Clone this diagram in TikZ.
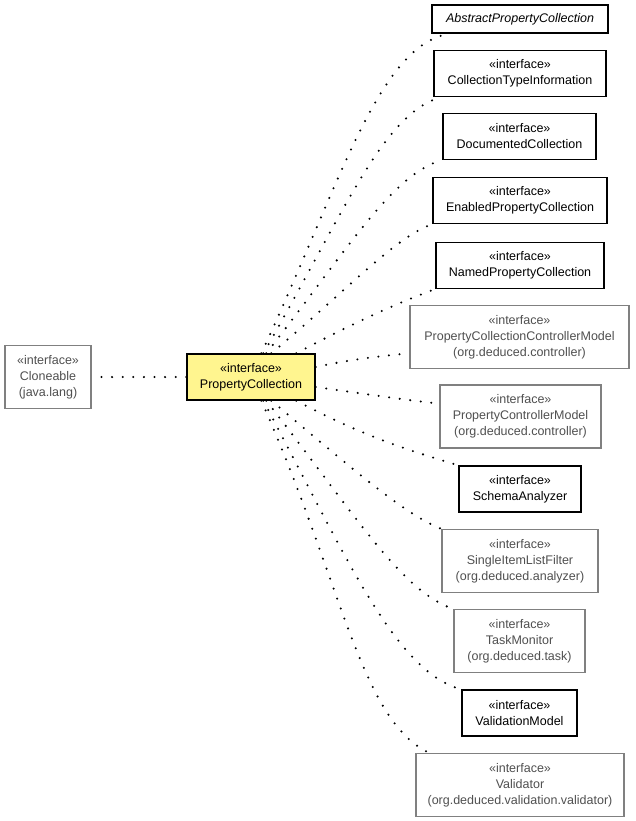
\documentclass[tikz,border=0pt]{standalone}
\usepackage{fontspec}
\setmainfont{Liberation Sans}
\usepackage{tikz,xcolor}
\usetikzlibrary{calc}

\definecolor{noteyellow}{RGB}{255,245,143}
\definecolor{boxgray}{RGB}{128,128,128}
\definecolor{textgray}{RGB}{80,80,80}

\tikzset{
  iface/.style={draw=black, line width=1.2pt, fill=white, align=center,
    inner sep=0pt, minimum height=46pt, font=\fontsize{12.5}{16}\selectfont},
  ifacelib/.style={iface, draw=boxgray, text=textgray, minimum height=63pt},
  ifacemain/.style={iface, fill=noteyellow, line width=1.4pt},
  realize/.style={black, line width=2.3pt, line cap=round, dash pattern=on 0pt off 10.6pt,
    out looseness=1.3, in looseness=0.5}
}

\begin{document}
\begin{tikzpicture}[x=1pt,y=1pt]
\useasboundingbox (0,0) rectangle (635,-821);

% the class in the middle and its parent
\node[ifacemain, minimum width=128pt] (pc) at (251,-377) {«interface»\\PropertyCollection};
\node[ifacelib, minimum width=86pt] (clone) at (48,-377) {«interface»\\Cloneable\\(java.lang)};

% the right hand column
\node[iface, minimum width=176pt, minimum height=28pt] (abs) at (520,-19) {\textit{AbstractPropertyCollection}};
\node[iface, minimum width=172pt] (cti) at (520,-73.5) {«interface»\\CollectionTypeInformation};
\node[iface, minimum width=153pt] (doc) at (519.5,-136.5) {«interface»\\DocumentedCollection};
\node[iface, minimum width=174pt] (epc) at (520,-200.5) {«interface»\\EnabledPropertyCollection};
\node[iface, minimum width=168pt] (npc) at (520,-265.5) {«interface»\\NamedPropertyCollection};
\node[ifacelib, minimum width=219pt] (pccm) at (519.5,-337) {«interface»\\PropertyCollectionControllerModel\\(org.deduced.controller)};
\node[ifacelib, minimum width=161pt] (pcm) at (520.5,-416.5) {«interface»\\PropertyControllerModel\\(org.deduced.controller)};
\node[iface, minimum width=122pt] (sa) at (520,-489) {«interface»\\SchemaAnalyzer};
\node[ifacelib, minimum width=156pt] (silf) at (520,-561) {«interface»\\SingleItemListFilter\\(org.deduced.analyzer)};
\node[ifacelib, minimum width=131pt] (tm) at (519.5,-641) {«interface»\\TaskMonitor\\(org.deduced.task)};
\node[iface, minimum width=115pt] (vm) at (519.5,-713) {«interface»\\ValidationModel};
\node[ifacelib, minimum width=208pt] (val) at (520,-785) {«interface»\\Validator\\(org.deduced.validation.validator)};

% dotted links
\draw[realize] (pc.west) -- (clone.east);

\draw[realize] ([xshift=75pt]pc.north west) to[out=65,in=190] ([xshift=18pt]abs.south west);
\draw[realize] ([xshift=77pt]pc.north west) to[out=60,in=195] ([xshift=8pt]cti.south west);
\draw[realize] ([xshift=80pt]pc.north west) to[out=52,in=195] (doc.south west);
\draw[realize] ([xshift=85pt]pc.north west) to[out=40,in=200] (epc.south west);
\draw[realize] ([xshift=110pt]pc.north west) to[out=28,in=200] (npc.south west);
\draw[realize] ([yshift=10pt]pc.east) to[out=12,in=188] ([yshift=-16pt]pccm.west);
\draw[realize] ([yshift=-10pt]pc.east) to[out=-8,in=175] ([yshift=13pt]pcm.west);

\draw[realize] ([xshift=110pt]pc.south west) to[out=-28,in=162] (sa.north west);
\draw[realize] ([xshift=85pt]pc.south west) to[out=-40,in=158] (silf.north west);
\draw[realize] ([xshift=80pt]pc.south west) to[out=-52,in=162] (tm.north west);
\draw[realize] ([xshift=77pt]pc.south west) to[out=-62,in=165] (vm.north west);
\draw[realize] ([xshift=75pt]pc.south west) to[out=-66,in=155] ([xshift=14pt]val.north west);

\end{tikzpicture}
\end{document}
